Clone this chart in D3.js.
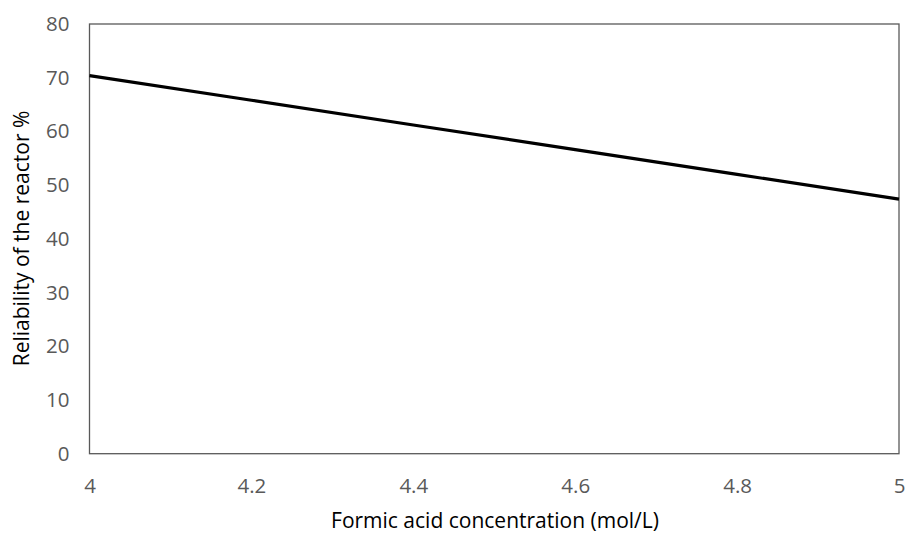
<!DOCTYPE html>
<html><head><meta charset="utf-8">
<script src="https://cdn.jsdelivr.net/npm/d3@7"></script>
<style>body{margin:0;background:#fff}</style>
</head><body>
<svg id="c" width="905" height="533"></svg>
<script>
const concentration = [4, 4.2, 4.4, 4.6, 4.8, 5];
const reliability = [70.4, 65.8, 61.2, 56.6, 52.0, 47.4];
const xTicks = [4, 4.2, 4.4, 4.6, 4.8, 5];
const yTicks = [0, 10, 20, 30, 40, 50, 60, 70, 80];
const xTitle = "Formic acid concentration (mol/L)";
const yTitle = "Reliability of the reactor %";

const m = {left: 89.5, right: 899, top: 24, bottom: 453.7};
const svg = d3.select("#c");
const x = d3.scaleLinear().domain([4, 5]).range([m.left, m.right]);
const y = d3.scaleLinear().domain([0, 80]).range([m.bottom, m.top]);
const font = "'Open Sans', sans-serif";

svg.append("rect").attr("x", m.left).attr("y", m.top)
  .attr("width", m.right - m.left).attr("height", m.bottom - m.top)
  .attr("fill", "none").attr("stroke", "#595959").attr("stroke-width", 1.3);

const yAxis = svg.append("g").attr("transform", `translate(${m.left},0)`)
  .call(d3.axisLeft(y).tickValues(yTicks).tickSize(0).tickPadding(20).tickFormat(d3.format("d")));
const xAxis = svg.append("g").attr("transform", `translate(0,${m.bottom})`)
  .call(d3.axisBottom(x).tickValues(xTicks).tickSize(0).tickPadding(24.7).tickFormat(d => d3.format("")(d)));
[yAxis, xAxis].forEach(a => {
  a.select(".domain").remove();
  a.selectAll("text").attr("fill", "#595959").style("font-family", font).style("font-size", "20.5px");
});

svg.append("path").datum(concentration.map((c, i) => [c, reliability[i]]))
  .attr("fill", "none").attr("stroke", "#000").attr("stroke-width", 3.2)
  .attr("d", d3.line().x(d => x(d[0])).y(d => y(d[1])));

svg.append("text").attr("x", 495).attr("y", 527.5)
  .attr("text-anchor", "middle").style("font-family", font).style("font-size", "21px")
  .attr("fill", "#000").text(xTitle);
svg.append("text").attr("transform", `translate(29,238.5) rotate(-90)`)
  .attr("text-anchor", "middle").style("font-family", font).style("font-size", "21px")
  .attr("fill", "#000").text(yTitle);
</script>
</body></html>
